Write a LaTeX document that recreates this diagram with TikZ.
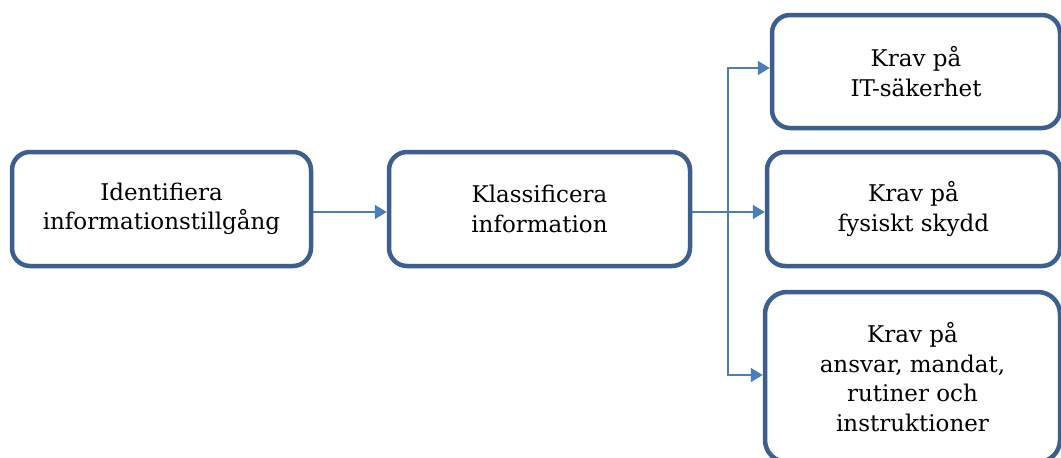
\documentclass[tikz,border=0pt]{standalone}
\usepackage{fontspec}
\setmainfont{DejaVu Serif}
\usetikzlibrary{arrows.meta}
\definecolor{boxblue}{HTML}{3C5F8F}
\definecolor{arrblue}{HTML}{4A7EBB}
\begin{document}
\begin{tikzpicture}[x=1pt,y=-1pt,
  box/.style={draw=boxblue, line width=4.5pt, rounded corners=18pt, fill=white,
    align=center, inner sep=0pt, font=\fontsize{23}{29.5}\selectfont},
  conn/.style={draw=arrblue, line width=1.8pt, -{Triangle[length=12pt,width=14pt]}}]
\clip (0,0) rectangle (1061,458);
\useasboundingbox (0,0) rectangle (1061,458);
\node[box, minimum width=299pt, minimum height=114pt] (a) at (161.5,209) {Identifiera\\informationstillgång};
\node[box, minimum width=301pt, minimum height=114pt] (b) at (539.5,209) {Klassificera\\information};
\node[box, minimum width=288pt, minimum height=113pt] (c) at (916,71.5) {Krav på\\IT-säkerhet};
\node[box, minimum width=293pt, minimum height=114pt] (d) at (913.5,209) {Krav på\\fysiskt skydd};
\node[box, rounded corners=22pt, minimum width=295pt, minimum height=170pt] (e) at (912.5,377) {Krav på\\ansvar, mandat,\\rutiner och\\instruktioner};
\coordinate (j) at (728,212);
\draw[conn] (a.east |- 0,212) -- (b.west |- 0,212);
\draw[conn] (b.east |- 0,212) -- (d.west |- 0,212);
\draw[conn] (j) |- (c.west |- 0,68);
\draw[conn] (j) |- (e.west |- 0,375);
\end{tikzpicture}
\end{document}
